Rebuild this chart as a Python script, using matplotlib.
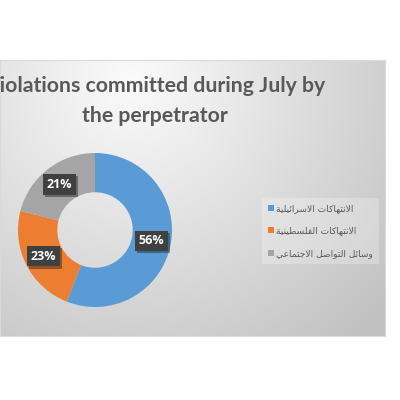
import numpy as np
import matplotlib
matplotlib.use('Agg')
import matplotlib.pyplot as plt
from matplotlib.patches import Patch
import matplotlib.patheffects as pe

# data
title = 'Violations committed during July by\nthe perpetrator'
labels = ['الانتهاكات الاسرائيلية', 'الانتهاكات الفلسطينية', 'وسائل التواصل الاجتماعي']
values = [56, 23, 21]
colors = ['#5B9BD5', '#ED7D31', '#A5A5A5']

# minimal arabic shaping (matplotlib has no bidi / joining)
JOIN4 = {'ئ': 0xFE89, 'ب': 0xFE8F, 'ت': 0xFE95, 'ث': 0xFE99, 'ج': 0xFE9D, 'ح': 0xFEA1,
         'خ': 0xFEA5, 'س': 0xFEB1, 'ش': 0xFEB5, 'ص': 0xFEB9, 'ض': 0xFEBD, 'ط': 0xFEC1,
         'ظ': 0xFEC5, 'ع': 0xFEC9, 'غ': 0xFECD, 'ف': 0xFED1, 'ق': 0xFED5, 'ك': 0xFED9,
         'ل': 0xFEDD, 'م': 0xFEE1, 'ن': 0xFEE5, 'ه': 0xFEE9, 'ي': 0xFEF1}
JOIN2 = {'ا': 0xFE8D, 'ة': 0xFE93, 'د': 0xFEA9, 'ذ': 0xFEAB, 'ر': 0xFEAD, 'ز': 0xFEAF,
         'و': 0xFEED, 'ى': 0xFEEF}


def shape(text):
    out = []
    n = len(text)
    i = 0
    while i < n:
        c = text[i]
        if c not in JOIN4 and c not in JOIN2:
            out.append(c)
            i += 1
            continue
        prev = text[i - 1] if i > 0 else ''
        jp = prev in JOIN4
        if c == 'ل' and i + 1 < n and text[i + 1] == 'ا':
            out.append(chr(0xFEFC if jp else 0xFEFB))
            i += 2
            continue
        nxt = text[i + 1] if i + 1 < n else ''
        jn = c in JOIN4 and (nxt in JOIN4 or nxt in JOIN2)
        if c in JOIN4:
            idx = 3 if (jp and jn) else 1 if jp else 2 if jn else 0
            out.append(chr(JOIN4[c] + idx))
        else:
            out.append(chr(JOIN2[c] + (1 if jp else 0)))
        i += 1
    return ''.join(reversed(out))


W, H = 400, 400
fig = plt.figure(figsize=(4, 4), dpi=100)
fig.patch.set_facecolor('white')

# chart area with soft gradient
x0, x1, y0, y1 = 0, 385, 60, 336
bg = fig.add_axes([x0 / W, 1 - y1 / H, (x1 - x0) / W, (y1 - y0) / H])
yy, xx = np.mgrid[0:y1 - y0, 0:x1 - x0]
d = np.sqrt(((xx - 130) / 330.0) ** 2 + ((yy - 20) / 330.0) ** 2)
g = np.clip(0.985 - 0.22 * d, 0.76, 1.0)
bg.imshow(np.dstack([g, g, g]), aspect='auto', interpolation='bilinear')
bg.set_xticks([])
bg.set_yticks([])
for s in bg.spines.values():
    s.set_color('#d9d9d9')
    s.set_linewidth(0.8)

# title (left edge is clipped in the reference too)
fig.text(155 / W, 1 - 122 / H, title, ha='center', va='baseline', fontsize=15.3,
         fontweight='bold', color='#595959', family='Lato', linespacing=1.65,
         multialignment='center')

# donut
cx, cy, r = 95, 230, 77
ax = fig.add_axes([(cx - r) / W, 1 - (cy + r) / H, 2 * r / W, 2 * r / H])
wedges, _ = ax.pie(values, colors=colors, startangle=90, counterclock=False,
                   radius=1, wedgeprops=dict(width=0.51, linewidth=0))
ax.set_xlim(-1, 1)
ax.set_ylim(-1, 1)
ax.set_aspect('equal')
ax.axis('off')

for w, v in zip(wedges, values):
    ang = np.deg2rad((w.theta1 + w.theta2) / 2)
    t = ax.text(0.75 * np.cos(ang), 0.75 * np.sin(ang), f'{v}%', ha='center', va='center',
                fontsize=9, fontweight='bold', color='white', family='Open Sans',
                bbox=dict(boxstyle='square,pad=0.3', fc='#404040', ec='none'))
    t.get_bbox_patch().set_path_effects([pe.SimplePatchShadow(offset=(1.5, -1.5), alpha=0.4),
                                         pe.Normal()])

handles = [Patch(facecolor=c, edgecolor='none') for c in colors]
leg = fig.legend(handles, [shape(l) for l in labels], loc='center left',
                 bbox_to_anchor=(257 / W, 1 - 231 / H),
                 prop={'family': 'DejaVu Sans', 'size': 6.6},
                 handlelength=0.65, handleheight=0.65, handletextpad=0.2,
                 labelspacing=1.45, borderpad=0.7, frameon=True, fancybox=False)
leg.get_frame().set_facecolor('white')
leg.get_frame().set_alpha(0.25)
leg.get_frame().set_edgecolor('none')
for txt in leg.get_texts():
    txt.set_color('#595959')

fig.savefig('out.png', dpi=100)
